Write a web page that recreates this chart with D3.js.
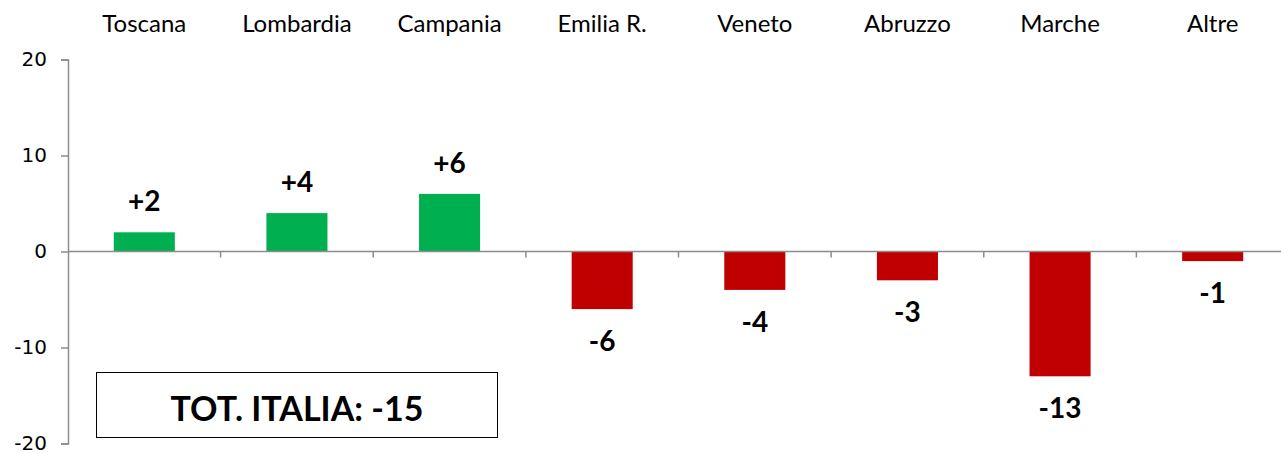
<!DOCTYPE html>
<html>
<head>
<meta charset="utf-8">
<script src="https://cdn.jsdelivr.net/npm/d3@7"></script>
<style>
  body { margin: 0; background: #fff; }
  svg text { fill: #000; }
</style>
</head>
<body>
<div id="chart"></div>
<script>
const regions = ["Toscana", "Lombardia", "Campania", "Emilia R.", "Veneto", "Abruzzo", "Marche", "Altre"];
const changes = [2, 4, 6, -6, -4, -3, -13, -1];
const yTicks = [-20, -10, 0, 10, 20];
const totalLabel = "TOT. ITALIA: -15";

const width = 1281;
const height = 453;
const margin = { top: 59.5, right: -8, bottom: 9.5, left: 68 };

const svg = d3.select("#chart").append("svg")
    .attr("width", width)
    .attr("height", height);

const xScale = d3.scaleBand()
    .domain(regions)
    .range([margin.left, width - margin.right])
    .paddingInner(0.6)
    .paddingOuter(0.3);

const yScale = d3.scaleLinear()
    .domain([-20, 20])
    .range([height - margin.bottom, margin.top]);

const axisColor = "#8c8c8c";
const labelFont = "Lato, 'Open Sans', sans-serif";

// y axis
const yAxis = svg.append("g")
    .attr("transform", `translate(${margin.left},0)`)
    .call(d3.axisLeft(yScale)
        .tickValues(yTicks)
        .tickFormat((d) => String(d))
        .tickSize(7)
        .tickPadding(14));
yAxis.select(".domain").attr("stroke", axisColor).attr("stroke-width", 1.5);
yAxis.selectAll(".tick line").attr("stroke", axisColor).attr("stroke-width", 1.5);
yAxis.selectAll(".tick text")
    .attr("font-family", "DejaVu Sans")
    .attr("font-size", 20)
    .attr("fill", "#000");

// bars
svg.append("g").selectAll("rect")
    .data(regions)
    .join("rect")
    .attr("x", (d) => xScale(d))
    .attr("width", xScale.bandwidth())
    .attr("y", (d, i) => yScale(Math.max(0, changes[i])))
    .attr("height", (d, i) => Math.abs(yScale(changes[i]) - yScale(0)))
    .attr("fill", (d, i) => changes[i] >= 0 ? "#00B050" : "#C00000");

// zero line with category ticks
const step = xScale.step();
const zeroAxis = svg.append("g")
    .attr("transform", `translate(0,${yScale(0)})`);
zeroAxis.append("line")
    .attr("x1", margin.left)
    .attr("x2", width)
    .attr("stroke", axisColor)
    .attr("stroke-width", 1.5);
zeroAxis.selectAll(".cat-tick")
    .data(d3.range(1, regions.length))
    .join("line")
    .attr("class", "cat-tick")
    .attr("x1", (d) => margin.left + d * step)
    .attr("x2", (d) => margin.left + d * step)
    .attr("y1", 0)
    .attr("y2", 6)
    .attr("stroke", axisColor)
    .attr("stroke-width", 1.5);

// category labels along the top
svg.append("g").selectAll("text")
    .data(regions)
    .join("text")
    .attr("x", (d) => xScale(d) + xScale.bandwidth() / 2)
    .attr("y", 32)
    .attr("text-anchor", "middle")
    .attr("font-family", labelFont)
    .attr("font-size", 24)
    .text((d) => d);

// value labels
svg.append("g").selectAll("text")
    .data(regions)
    .join("text")
    .attr("x", (d) => xScale(d) + xScale.bandwidth() / 2)
    .attr("y", (d, i) => changes[i] >= 0 ? yScale(changes[i]) - 21 : yScale(changes[i]) + 42)
    .attr("text-anchor", "middle")
    .attr("font-family", labelFont)
    .attr("font-weight", "bold")
    .attr("font-size", 28)
    .text((d, i) => (changes[i] > 0 ? "+" : "") + changes[i]);

// total box
const box = svg.append("g");
box.append("rect")
    .attr("x", 96.5)
    .attr("y", 372.5)
    .attr("width", 401)
    .attr("height", 65)
    .attr("fill", "#fff")
    .attr("stroke", "#000")
    .attr("stroke-width", 1);
box.append("text")
    .attr("x", 297)
    .attr("y", 421)
    .attr("text-anchor", "middle")
    .attr("font-family", labelFont)
    .attr("font-weight", "bold")
    .attr("font-size", 34)
    .text(totalLabel);
</script>
</body>
</html>
